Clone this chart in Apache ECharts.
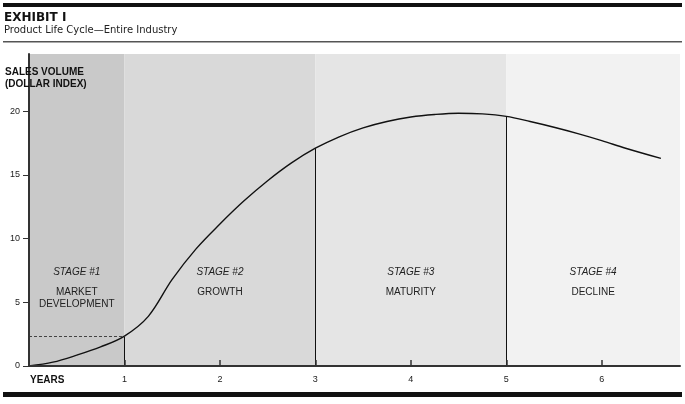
<!DOCTYPE html>
<html>
<head>
<meta charset="utf-8">
<script src="https://cdn.jsdelivr.net/npm/echarts@6/dist/echarts.min.js"></script>
<style>html,body{margin:0;padding:0;background:#fff}#c{width:685px;height:404px}</style>
</head>
<body>
<div id="c"></div>
<script>
// ---- data ----
const years = [0, 0.25, 0.5, 0.75, 1, 1.25, 1.5, 1.75, 2, 2.25, 2.5, 2.75, 3, 3.25, 3.5, 3.75, 4, 4.25, 4.5, 4.75, 5, 5.25, 5.5, 5.75, 6, 6.25, 6.62];
const sales = [0, 0.3, 0.85, 1.5, 2.35, 3.9, 6.8, 9.2, 11.15, 12.95, 14.55, 15.95, 17.1, 18.0, 18.7, 19.2, 19.55, 19.75, 19.85, 19.8, 19.6, 19.2, 18.75, 18.25, 17.7, 17.1, 16.3];
const stageBounds = [0, 1, 3, 5, 6.82];
const stageNumbers = ['STAGE #1', 'STAGE #2', 'STAGE #3', 'STAGE #4'];
const stageNames = ['MARKET\nDEVELOPMENT', 'GROWTH', 'MATURITY', 'DECLINE'];
const xTickValues = [1, 2, 3, 4, 5, 6];
const yTickValues = [0, 5, 10, 15, 20];
const titleText = 'EXHIBIT I';
const subtitleText = 'Product Life Cycle\u2014Entire Industry';
const yAxisTitle = ['SALES VOLUME', '(DOLLAR INDEX)'];
const xAxisTitle = 'YEARS';

// ---- build ----
const bandColors = ['#c9c9c9', '#d9d9d9', '#e5e5e5', '#f2f2f2'];
const valueAt = x => sales[years.indexOf(x)];
const transitions = stageBounds.slice(1, 4);

const markAreaData = stageNumbers.map((s, i) => [
  { xAxis: stageBounds[i], itemStyle: { color: bandColors[i] } },
  { xAxis: stageBounds[i + 1] }
]);
const markLineData = transitions.map(x => [
  { coord: [x, 0], lineStyle: { color: '#111', width: 1, type: 'solid' } },
  { coord: [x, valueAt(x)] }
]);
markLineData.push([
  { coord: [0, valueAt(1)], lineStyle: { color: '#444', width: 1, type: [3, 2] } },
  { coord: [1, valueAt(1)] }
]);
const centers = stageNumbers.map((s, i) => (stageBounds[i] + stageBounds[i + 1]) / 2);
const markPointData = [];
centers.forEach((c, i) => {
  markPointData.push({ coord: [c, 7.38], label: { formatter: stageNumbers[i], fontStyle: 'italic' } });
  markPointData.push({ coord: [c, 6.3], label: { formatter: stageNames[i], verticalAlign: 'top', lineHeight: 12 } });
});

const font = 'Liberation Sans, Arial, sans-serif';
const chart = echarts.init(document.getElementById('c'), null, { renderer: 'canvas' });
chart.setOption({
  animation: false,
  backgroundColor: '#fff',
  grid: { left: 29, right: 5, top: 54, bottom: 38, containLabel: false },
  xAxis: {
    type: 'value', min: 0, max: 6.82, interval: 1, z: 10,
    axisLine: { show: true, onZero: false, lineStyle: { color: '#333', width: 2 } },
    axisTick: { show: true, inside: true, length: 6, customValues: xTickValues, lineStyle: { color: '#333', width: 1.5 } },
    axisLabel: { customValues: xTickValues, margin: 9, color: '#222', fontSize: 9, fontFamily: font },
    splitLine: { show: false }
  },
  yAxis: {
    type: 'value', min: 0, max: 24.5, interval: 5, z: 10,
    axisLine: { show: true, onZero: false, lineStyle: { color: '#333', width: 2 } },
    axisTick: { show: true, length: 6, customValues: yTickValues, lineStyle: { color: '#333', width: 1 } },
    axisLabel: { customValues: yTickValues, margin: 9, color: '#222', fontSize: 9, fontFamily: font },
    splitLine: { show: false }
  },
  series: [{
    type: 'line',
    data: years.map((x, i) => [x, sales[i]]),
    smooth: 0.35,
    showSymbol: false,
    lineStyle: { color: '#111', width: 1.4 },
    markArea: { silent: true, data: markAreaData, label: { show: false } },
    markLine: { silent: true, symbol: 'none', label: { show: false }, data: markLineData },
    markPoint: {
      silent: true, symbol: 'circle', symbolSize: 0,
      itemStyle: { color: 'rgba(0,0,0,0)' },
      label: { show: true, position: 'inside', color: '#222', fontSize: 10, fontFamily: font },
      data: markPointData
    }
  }],
  graphic: [
    { type: 'rect', z: 100, shape: { x: 3, y: 3, width: 679, height: 4 }, style: { fill: '#111' } },
    { type: 'rect', z: 100, shape: { x: 3, y: 41, width: 679, height: 1.5 }, style: { fill: '#555' } },
    { type: 'rect', z: 100, shape: { x: 3, y: 392, width: 679, height: 5 }, style: { fill: '#111' } },
    { type: 'text', z: 100, x: 4, y: 12, style: { text: titleText, font: 'bold 12px "DejaVu Sans"', fill: '#111' } },
    { type: 'text', z: 100, x: 4, y: 25, style: { text: subtitleText, font: '10px "DejaVu Sans"', fill: '#222' } },
    { type: 'text', z: 100, x: 5, y: 67, style: { text: yAxisTitle[0], font: 'bold 10px "Liberation Sans"', fill: '#111' } },
    { type: 'text', z: 100, x: 5, y: 79, style: { text: yAxisTitle[1], font: 'bold 10px "Liberation Sans"', fill: '#111' } },
    { type: 'text', z: 100, x: 30, y: 375, style: { text: xAxisTitle, font: 'bold 10px "Liberation Sans"', fill: '#111' } }
  ]
});
</script>
</body>
</html>
